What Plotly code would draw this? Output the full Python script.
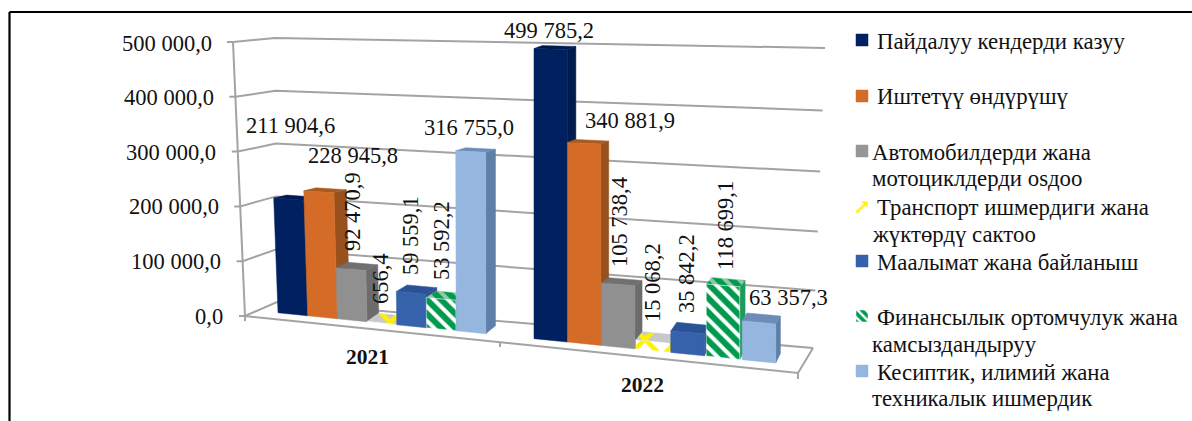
import plotly.graph_objects as go

FONT = "Liberation Serif"
W, H = 1192, 421

# ---------- data ----------
years = ["2021", "2022"]
mining = [211904.6, 499785.2]
manufacturing = [228945.8, 340881.9]
vehicles = [92470.9, 105738.4]
transport = [656.4, 15068.2]
information = [59559.1, 35842.2]
finance = [53592.2, 118699.1]
professional = [316755.0, 63357.3]
y_ticks = [0, 100000, 200000, 300000, 400000, 500000]
legend_lines = [
    ["Пайдалуу кендерди казуу"],
    ["Иштетүү өндүрүшү"],
    ["Автомобилдерди жана", "мотоциклдерди osдоо"],
    ["Транспорт ишмердиги жана", "жүктөрдү сактоо"],
    ["Маалымат жана байланыш"],
    ["Финансылык ортомчулук жана", "камсыздандыруу"],
    ["Кесиптик, илимий жана", "техникалык ишмердик"],
]

series = [mining, manufacturing, vehicles, transport, information, finance, professional]

# ---------- styles ----------
front_colors = ["#002060", "#D46C28", "#909090", "#FFFFFF", "#3562AB", "#FFFFFF", "#95B7DF"]
side_colors = ["#001A4E", "#98501C", "#6C6C6C", "#D8D020", "#2A4F8C", "#1E9A5C", "#5F7FA8"]
top_colors = ["#001A50", "#A85A20", "#707070", "#C8C8C8", "#2B5296", "#8FC9A8", "#6D8DB8"]
patterns = {
    3: dict(shape="x", fgcolor="#FFF000", bgcolor="#FFFFFF", fgopacity=1, size=24, solidity=0.35),
    5: dict(shape="\\", fgcolor="#009A4E", bgcolor="#FFFFFF", fgopacity=1, size=10, solidity=0.6),
}
GRID = "#A3A3A3"

# label offsets (screen centre) per year/series: x, y, rotated
label_pos = {
    0: [(290, 125, False), (353, 155, False), (352, 212, True), (380, 279, True),
        (410, 236, True), (441, 241, True), (469, 127, False)],
    1: [(549, 30, False), (630, 120, False), (619, 222, True), (652, 283, True),
        (686, 274, True), (725, 226, True), (788, 297, False)],
}
slots = {0: (278.0, 29.7, 0.0, 29.5), 1: (534.0, 33.2, 0.25, 33.5)}
legend_y = [[41], [96], [152, 178], [207, 234], [262], [317, 344], [372, 398]]
legend_mark_y = [40, 96, 151, 207, 261, 316, 371]
legend_x0 = [[875], [875], [870, 870], [875, 870], [875], [875, 870], [875, 870]]
legend_swatch = ["#002060", "#D46C28", "#969696", None, "#3562AB", None, "#95B7DF"]


# ---------- projection of the 3-D look onto the flat axes ----------
def ay(py):
    """screen row -> y axis units (value at the left wall)"""
    return (316 - py) / 0.548 * 1000


def project(x, v):
    k = v / 1000
    lean = k * 0.019 * max(0, (470 - x) / 180)
    y = 314 + 0.101 * (x - 290) - k * (0.543 + 0.000153 * (x - 290))
    return x - lean, y


def depth(x, v):
    dx = 13 - max(0, x - 300) * 0.0174
    dy = -3 - 5 * max(0, 1 - v / 200000) - min(1.5, max(0, x - 650) * 0.03)
    return dx, dy


def poly(pts, color, pattern=None, line=None):
    xs = [p[0] for p in pts] + [pts[0][0]]
    ys = [ay(p[1]) for p in pts] + [ay(pts[0][1])]
    kw = {}
    if pattern:
        kw["fillpattern"] = pattern
    return go.Scatter(x=xs, y=ys, mode="lines", fill="toself", fillcolor=color,
                      line=dict(width=0.5, color=line or color), hoverinfo="skip",
                      showlegend=False, **kw)


def grid_points(v):
    t = v / 100000
    s = v / 500000
    return [
        (239 - 12 * s, 316 - 274 * s),
        (245 - 12 * s, 316 - 274 * s),
        (277 - 2 * s, 302 - 264 * s),
        (813 + 12 * s, 348 - 57 * t - 0.6 * t * t),
    ]


def poly_line(pts, color=GRID, width=2):
    return go.Scatter(x=[p[0] for p in pts], y=[ay(p[1]) for p in pts], mode="lines",
                      line=dict(color=color, width=width), hoverinfo="skip", showlegend=False)


fig = go.Figure()

# walls and floor
for v in y_ticks:
    fig.add_trace(poly_line(grid_points(v)))
fig.add_trace(poly_line([(233, 42), (245, 316)]))
fig.add_trace(poly_line([(245, 316), (798, 373), (813, 348)]))
fig.add_trace(poly_line([(245, 316), (245, 321)]))
fig.add_trace(poly_line([(500, 342), (500, 347)]))
fig.add_trace(poly_line([(798, 373), (798, 379)]))

# bars
for g, _ in enumerate(years):
    x0, w, c, bw = slots[g]
    for i, s in enumerate(series):
        v = s[g]
        xl = x0 + w * i + c * i * i
        xr = xl + bw
        dx, dy = depth(xr, v)
        dx0, dy0 = depth(xr, 0)
        a, b = project(xl, 0), project(xr, 0)
        d, e = project(xl, v), project(xr, v)
        shift = lambda p: (p[0] + dx, p[1] + dy)
        fig.add_trace(poly([b, e, shift(e), (b[0] + dx0, b[1] + dy0)], side_colors[i]))
        fig.add_trace(poly([d, e, shift(e), shift(d)], top_colors[i],
                           pattern=dict(patterns[i], bgcolor=top_colors[i]) if i in patterns else None))
        fig.add_trace(poly([a, b, e, d], front_colors[i], pattern=patterns.get(i)))

# legend swatches
for i, my in enumerate(legend_mark_y):
    sq = [(856, my - 6), (868, my - 6), (868, my + 6), (856, my + 6)]
    if legend_swatch[i]:
        fig.add_trace(poly(sq, legend_swatch[i]))
    else:
        p = dict(patterns[i], size=6 if i == 5 else 12)
        fig.add_trace(poly(sq, "#FFFFFF", pattern=p, line="#FFFFFF"))

annotations = []


def text(x, y, t, size=22.5, anchor="center", angle=0, bold=False):
    annotations.append(dict(x=x, y=ay(y), xref="x", yref="y", text=f"<b>{t}</b>" if bold else t,
                            showarrow=False, xanchor=anchor, yanchor="middle", textangle=angle,
                            font=dict(family=FONT, size=size, color="#111111")))


def fmt(v):
    whole, dec = f"{v:.1f}".split(".")
    return f"{int(whole):,}".replace(",", " ") + "," + dec


for g in (0, 1):
    for i, s in enumerate(series):
        lx, ly, rot = label_pos[g][i]
        text(lx, ly, fmt(s[g]), angle=-90 if rot else 0)

for v in y_ticks:
    s = v / 500000
    text(225 - 11 * s, 316 - 273 * s, fmt(v), anchor="right")

text(367, 357, years[0], size=21.5, bold=True)
text(642, 385, years[1], size=21.5, bold=True)

for lines, ys, xs in zip(legend_lines, legend_y, legend_x0):
    for t, y, x in zip(lines, ys, xs):
        text(x, y, t, size=22.8, anchor="left")

fig.update_layout(
    width=W, height=H,
    margin=dict(l=0, r=0, t=0, b=0),
    paper_bgcolor="white", plot_bgcolor="white",
    showlegend=False,
    xaxis=dict(range=[0, W], visible=False, fixedrange=True),
    yaxis=dict(range=[ay(H), ay(0)], visible=False, fixedrange=True),
    annotations=annotations,
    shapes=[
        dict(type="line", xref="x", yref="y", x0=9.5, x1=W, y0=ay(12), y1=ay(12),
             line=dict(color="black", width=2.2)),
        dict(type="line", xref="x", yref="y", x0=9.5, x1=9.5, y0=ay(12), y1=ay(H),
             line=dict(color="black", width=2.2)),
    ],
)
fig.write_html("out.html", config=dict(displayModeBar=False),
               post_script="document.body.style.margin='0';document.body.style.overflow='hidden';")
